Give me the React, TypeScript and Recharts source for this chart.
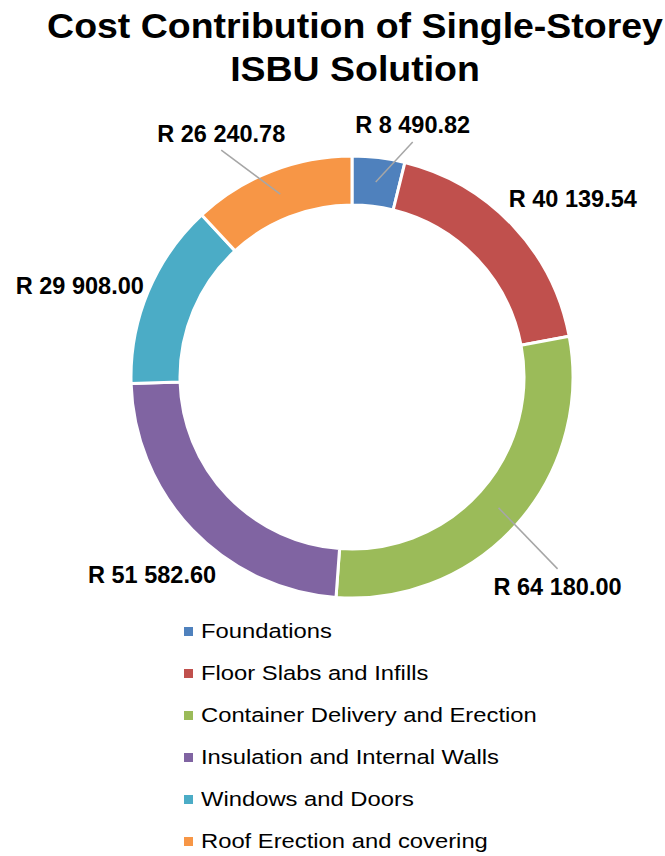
import { PieChart, Pie, Cell, Legend } from 'recharts';

const categories = [
  'Foundations',
  'Floor Slabs and Infills',
  'Container Delivery and Erection',
  'Insulation and Internal Walls',
  'Windows and Doors',
  'Roof Erection and covering',
];
const costs = [8490.82, 40139.54, 64180.0, 51582.6, 29908.0, 26240.78];
const valueLabels = [
  'R 8 490.82',
  'R 40 139.54',
  'R 64 180.00',
  'R 51 582.60',
  'R 29 908.00',
  'R 26 240.78',
];
const colors = ['#4F81BD', '#C0504D', '#9BBB59', '#8064A2', '#4BACC6', '#F79646'];

// label placement relative to the middle of each ring segment (manual, like Excel)
const labelOffsets = [
  { dx: 37, dy: -57, line: true },
  { dx: 78, dy: -44, line: false },
  { dx: 59, dy: 79, line: true },
  { dx: -58, dy: 62, line: false },
  { dx: -91, dy: -15, line: false },
  { dx: -59, dy: -61, line: true },
];

const data = categories.map((name, i) => ({ name, value: costs[i] }));

const FONT = '"Liberation Sans", Arial, Helvetica, sans-serif';
const RADIAN = Math.PI / 180;

const renderLabel = (props: any) => {
  const { cx, cy, midAngle, innerRadius, outerRadius, index } = props;
  const r = (innerRadius + outerRadius) / 2;
  const ax = cx + r * Math.cos(-midAngle * RADIAN);
  const ay = cy + r * Math.sin(-midAngle * RADIAN);
  const o = labelOffsets[index];
  const lx = ax + o.dx;
  const ly = ay + o.dy;
  const lineEndY = o.dy < 0 ? ly + 17 : ly - 18;
  return (
    <g key={`lbl-${index}`}>
      {o.line && (
        <line x1={ax} y1={ay} x2={lx} y2={lineEndY} stroke="#A6A6A6" strokeWidth={1.5} />
      )}
      <text
        x={lx}
        y={ly + 8.5}
        textAnchor="middle"
        fontFamily={FONT}
        fontWeight="bold"
        fontSize={23.5}
        fill="#000"
      >
        {valueLabels[index]}
      </text>
    </g>
  );
};

const renderLegend = () => (
  <div style={{ fontFamily: FONT }}>
    {categories.map((name, i) => (
      <div key={name} style={{ height: 42, display: 'flex', alignItems: 'center' }}>
        <div style={{ width: 9, height: 9, background: colors[i], marginRight: 8 }} />
        <span
          style={{
            fontSize: 20.5,
            color: '#000',
            display: 'inline-block',
            transform: 'scaleX(1.16)',
            transformOrigin: 'left center',
            whiteSpace: 'nowrap',
          }}
        >
          {name}
        </span>
      </div>
    ))}
  </div>
);

export default function App() {
  return (
    <div style={{ position: 'absolute', left: 0, top: 0, width: 665, height: 856, background: '#fff', overflow: 'hidden' }}>
      <div
        style={{
          position: 'absolute',
          left: 0,
          top: 4,
          width: 710,
          textAlign: 'center',
          fontFamily: FONT,
          fontWeight: 'bold',
          fontSize: 35,
          lineHeight: '43px',
          color: '#000',
          whiteSpace: 'nowrap',
          transform: 'scaleX(1.07)',
          transformOrigin: '355px 0',
        }}
      >
        Cost Contribution of Single-Storey
        <br />
        ISBU Solution
      </div>
      <PieChart width={665} height={856} margin={{ top: 0, right: 0, bottom: 0, left: 0 }}>
        <Pie
          data={data}
          dataKey="value"
          nameKey="name"
          cx={352}
          cy={377}
          innerRadius={172}
          outerRadius={221}
          startAngle={90}
          endAngle={-270}
          stroke="#fff"
          strokeWidth={3}
          label={renderLabel}
          labelLine={false}
          isAnimationActive={false}
        >
          {data.map((entry, i) => (
            <Cell key={`cell-${i}`} fill={colors[i]} />
          ))}
        </Pie>
        <Legend
          layout="vertical"
          verticalAlign="bottom"
          content={renderLegend}
          wrapperStyle={{ position: 'absolute', left: 184, top: 610, width: 420, bottom: 'auto' }}
        />
      </PieChart>
    </div>
  );
}
